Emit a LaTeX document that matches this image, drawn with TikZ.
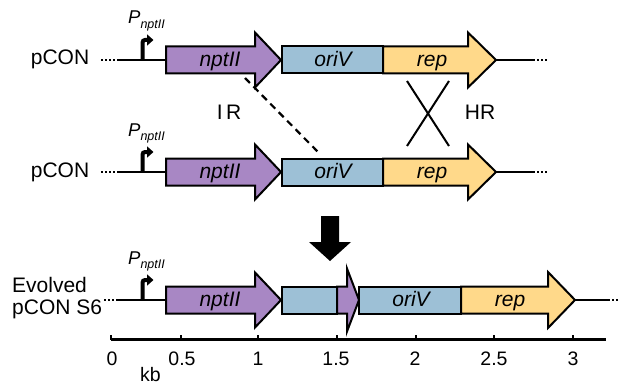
\documentclass[tikz,border=0pt]{standalone}
\usepackage{fontspec}
\setmainfont{Liberation Sans}
\usetikzlibrary{arrows.meta}
\definecolor{gpurple}{HTML}{A887C4}
\definecolor{gblue}{HTML}{9DC0D6}
\definecolor{gyellow}{HTML}{FFD98A}
% #1 name, #2 x tail, #3 x head base, #4 x tip, #5 y, #6 colour, #7 head half height
\newcommand\genearrow[7]{%
  \draw[genebox, fill=#6] (#2,#5-13.5) -- (#3,#5-13.5) -- (#3,#5-#7) -- (#4,#5)
    -- (#3,#5+#7) -- (#3,#5+13.5) -- (#2,#5+13.5) -- cycle;
  \coordinate (#1-l) at (#2,#5);
  \coordinate (#1-r) at (#4,#5);}
% #1 name, #2 x left, #3 x right, #4 y, #5 colour
\newcommand\genebar[5]{%
  \draw[genebox, fill=#5] (#2,#4-13.5) rectangle (#3,#4+13.5);
  \coordinate (#1-l) at (#2,#4);
  \coordinate (#1-r) at (#3,#4);}
\newcommand\promlabel{{\fontsize{18.5}{18.5}\selectfont\itshape P}\raisebox{-4.5pt}{\fontsize{12.5}{12.5}\selectfont\itshape nptII}}
\tikzset{
  genebox/.style={draw=black, line width=2pt, line join=miter},
  backbone/.style={line width=2.2pt},
  dots/.style={line width=2.2pt, dash pattern=on 2pt off 2pt},
  prom/.style={line width=4pt, rounded corners=2.5pt, -{Triangle[length=6.5pt,width=11pt]}},
  glabel/.style={anchor=base, inner sep=0pt, font=\itshape\fontsize{21}{21}\selectfont},
  tlabel/.style={anchor=base, inner sep=0pt, font=\fontsize{21}{21}\selectfont},
  ticklab/.style={anchor=base, inner sep=0pt, font=\fontsize{19.5}{19.5}\selectfont},
  plabel/.style={anchor=base west, inner sep=0pt},
}
\begin{document}
\begin{tikzpicture}[x=1pt, y=-1pt]
\useasboundingbox (0,0) rectangle (620,385);

% ---------- Row 1 ----------
\node[tlabel] (lab1) at (60,65) {pCON};
\coordinate (d1a) at (101,60);
\coordinate (d1b) at (118,60);
\draw[dots] (d1a) -- (d1b);
\genearrow{n1}{166}{255}{281}{60}{gpurple}{27.5}
\genebar{o1}{282}{383}{60}{gblue}
\genearrow{r1}{383}{468}{496}{60}{gyellow}{27.5}
\draw[backbone] (d1b) -- (n1-l);
\coordinate (p1) at (142.5,60);
\draw[prom] (p1) -- (142.5,40) -- (153.5,40);
\node[plabel] (pl1) at (128,24) {\promlabel};
\node[glabel] (g1) at (220,66.5) {nptII};
\node[glabel] (g2) at (333,66.5) {oriV};
\node[glabel] (g3) at (432,66.5) {rep};
\coordinate (e1a) at (533,60);
\coordinate (e1b) at (548,60);
\draw[backbone] (r1-r) -- (e1a);
\draw[dots] (e1a) -- (e1b);

% ---------- Row 2 ----------
\node[tlabel] (lab2) at (60,177) {pCON};
\coordinate (d2a) at (101,172);
\coordinate (d2b) at (118,172);
\draw[dots] (d2a) -- (d2b);
\genearrow{n2}{166}{255}{281}{172}{gpurple}{27.5}
\genebar{o2}{282}{383}{172}{gblue}
\genearrow{r2}{383}{468}{496}{172}{gyellow}{27.5}
\draw[backbone] (d2b) -- (n2-l);
\coordinate (p2) at (142.5,172);
\draw[prom] (p2) -- (142.5,152) -- (153.5,152);
\node[plabel] (pl2) at (128,136) {\promlabel};
\node[glabel] (g4) at (220,178.5) {nptII};
\node[glabel] (g5) at (333,178.5) {oriV};
\node[glabel] (g6) at (432,178.5) {rep};
\coordinate (e2a) at (533,172);
\coordinate (e2b) at (548,172);
\draw[backbone] (r2-r) -- (e2a);
\draw[dots] (e2a) -- (e2b);

% ---------- recombination marks ----------
\coordinate (ir1) at (245,78);
\coordinate (ir2) at (318,152);
\draw[line width=2.2pt, dash pattern=on 7pt off 5pt] (ir1) -- (ir2);
\node[tlabel] (irl) at (229,119) {I\,R};
\coordinate (x1) at (407,81);
\coordinate (x2) at (449,146);
\coordinate (x3) at (449,81);
\coordinate (x4) at (407,146);
\draw[line width=2pt] (x1) -- (x2) (x3) -- (x4);
\node[tlabel] (hrl) at (480,119) {HR};

% ---------- big arrow ----------
\fill[black] (321,216) -- (339,216) -- (339,242) -- (351,242) -- (330,261)
  -- (309,242) -- (321,242) -- cycle;

% ---------- Row 3 ----------
\node[tlabel, anchor=base west] (lab3a) at (12,292.5) {Evolved};
\node[tlabel, anchor=base west] (lab3b) at (12,314) {pCON S6};
\coordinate (d3a) at (104,300);
\coordinate (d3b) at (118,300);
\draw[dots] (d3a) -- (d3b);
\genearrow{n3}{166}{255}{281}{300}{gpurple}{27.5}
\genebar{b3}{282}{337}{300}{gblue}
\genearrow{s3}{337}{347}{359}{300}{gpurple}{31.5}
\genebar{o3}{359}{461}{300}{gblue}
\genearrow{r3}{461}{548}{575}{300}{gyellow}{28}
\draw[backbone] (d3b) -- (n3-l);
\coordinate (p3) at (142.5,300);
\draw[prom] (p3) -- (142.5,280) -- (153.5,280);
\node[plabel] (pl3) at (128,264) {\promlabel};
\node[glabel] (g7) at (220,306.5) {nptII};
\node[glabel] (g8) at (411,306.5) {oriV};
\node[glabel] (g9) at (510,306.5) {rep};
\coordinate (e3a) at (608,300);
\coordinate (e3b) at (621,300);
\draw[backbone] (r3-r) -- (e3a);
\draw[dots] (e3a) -- (e3b);

% ---------- scale ----------
\coordinate (ax0) at (111,339.5);
\coordinate (ax1) at (606,339.5);
\draw[line width=2.2pt] (ax0) -- (ax1);
\foreach \xx/\lab/\lx in {111/0/112, 181/0.5/182, 258/1/258, 337/1.5/336, 416/2/415, 494/2.5/494, 573/3/573}{
  \draw[line width=1.3pt] (\xx,339.5) -- (\xx,335);
  \node[ticklab] at (\lx,365) {\lab};
}
\node[ticklab] (kb) at (150.5,381) {kb};
\end{tikzpicture}
\end{document}
